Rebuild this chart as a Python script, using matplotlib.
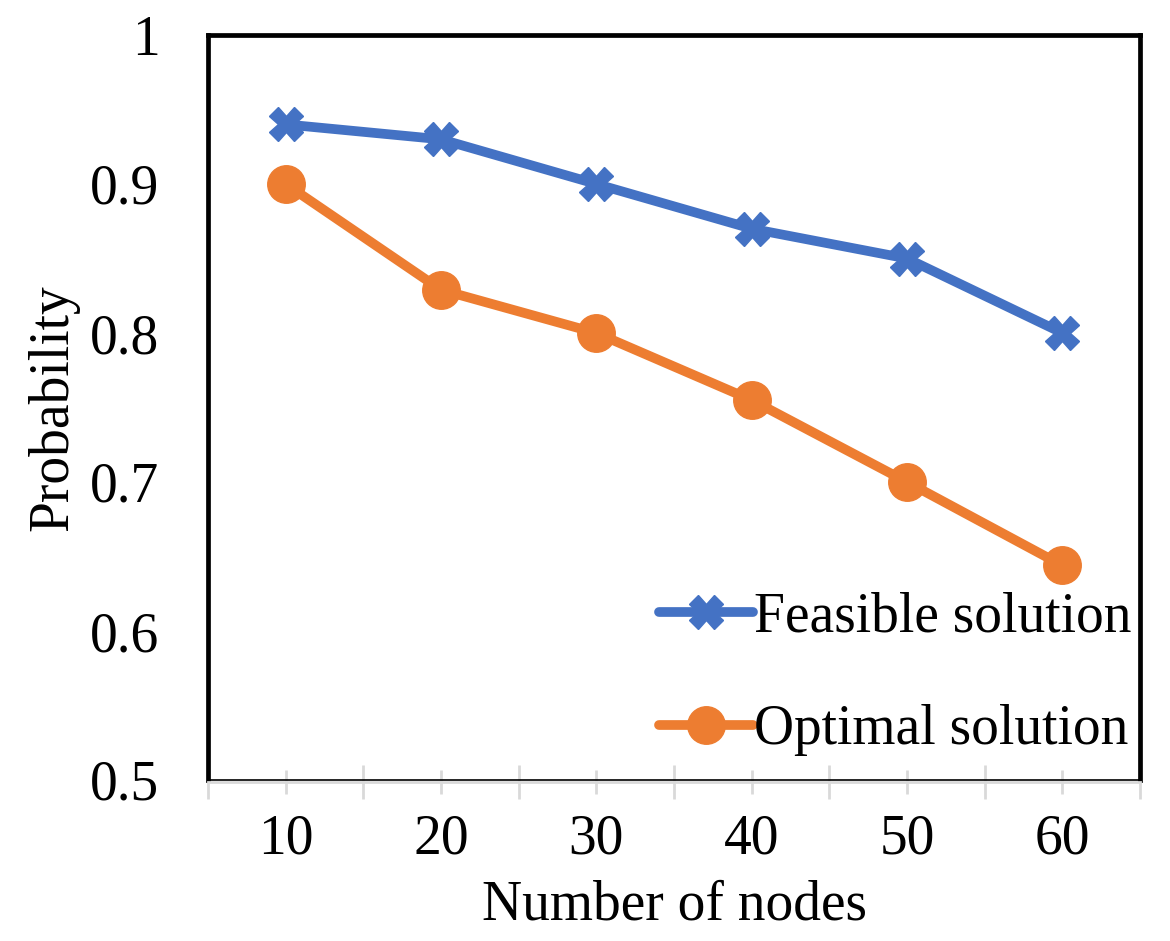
import numpy as np
import matplotlib.pyplot as plt
from matplotlib.ticker import FixedLocator

# data
nodes = [10, 20, 30, 40, 50, 60]
feasible = [0.94, 0.93, 0.90, 0.87, 0.85, 0.80]
optimal = [0.90, 0.829, 0.80, 0.755, 0.70, 0.644]
y_ticks = [0.5, 0.6, 0.7, 0.8, 0.9, 1.0]
y_tick_labels = ['0.5', '0.6', '0.7', '0.8', '0.9', '1']

plt.rcParams['font.family'] = ['Liberation Serif', 'DejaVu Serif']

fig = plt.figure(figsize=(11.7, 9.41), dpi=100)
ax = fig.add_axes([208 / 1170, 1 - 780 / 941, (1140 - 208) / 1170, (780 - 35) / 941])

blue = '#4472C4'
orange = '#ED7D31'
ax.plot(nodes, feasible, color=blue, lw=7, marker='X', markersize=24,
        label='Feasible solution', solid_capstyle='round')
ax.plot(nodes, optimal, color=orange, lw=7, marker='o', markersize=27,
        label='Optimal solution', solid_capstyle='round')

ax.set_xlim(5, 65)
ax.set_ylim(0.5, 1.0)

ax.set_xticks(nodes)
ax.set_xticklabels([str(n) for n in nodes])
ax.xaxis.set_minor_locator(FixedLocator(np.arange(5, 66, 10)))
ax.set_yticks(y_ticks)
ax.set_yticklabels(y_tick_labels)

ax.tick_params(axis='x', which='major', direction='inout', length=17, width=2,
               color='#D9D9D9', labelsize=40, pad=14)
ax.tick_params(axis='x', which='minor', direction='inout', length=24, width=2,
               color='#D9D9D9')
ax.tick_params(axis='y', length=0, labelsize=40, pad=35)

for side in ['left', 'top', 'right']:
    ax.spines[side].set_linewidth(3.4)
    ax.spines[side].set_color('black')
ax.spines['bottom'].set_color('#D9D9D9')
ax.spines['bottom'].set_linewidth(2)
ax.spines['bottom'].set_position(('outward', 1.5))
ax.plot([0, 1], [0, 0], transform=ax.transAxes, color='black', lw=1.2,
        clip_on=False, zorder=5)

ax.set_xlabel('Number of nodes', fontsize=40, labelpad=10)
ax.set_ylabel('Probability', fontsize=40, labelpad=8)

ax.legend(loc='lower right', bbox_to_anchor=(1.006, 0.013), frameon=False,
          fontsize=40, handlelength=1.7, handletextpad=0.02,
          labelspacing=1.1, borderaxespad=0.05, borderpad=0.2)

fig.savefig('out.png', dpi=100)
